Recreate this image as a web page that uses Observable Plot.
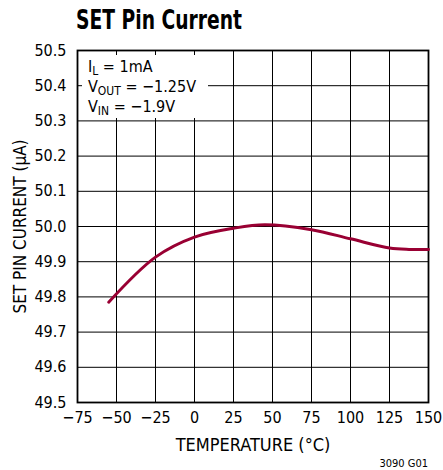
<!DOCTYPE html>
<html><head><meta charset="utf-8">
<script src="https://cdn.jsdelivr.net/npm/d3@7"></script>
<script src="https://cdn.jsdelivr.net/npm/@observablehq/plot@0.6"></script>
<style>
body{margin:0;background:#fff;}
#wrap{position:relative;width:443px;height:470px;overflow:hidden;font-family:"Liberation Sans Narrow","DejaVu Sans Condensed",sans-serif;}
#title{position:absolute;left:76px;top:5px;font-size:26px;font-weight:bold;transform:scaleX(0.8);transform-origin:left top;white-space:nowrap;}
#chart{position:absolute;left:0;top:40px;}
#note{position:absolute;left:82px;top:55px;width:126px;height:63px;background:#fff;font-size:16px;line-height:20px;padding-left:6px;box-sizing:border-box;padding-top:2px;}
#note sub{font-size:12px;vertical-align:-3px;line-height:0;}
#cap{position:absolute;right:15px;top:457px;font-size:11px;}
</style></head>
<body>
<div id="wrap">
<div id="title">SET Pin Current</div>
<div id="chart"></div>
<div id="note">I<sub>L</sub> = 1mA<br>V<sub>OUT</sub> = −1.25V<br>V<sub>IN</sub> = −1.9V</div>
<div id="cap">3090 G01</div>
</div>
<script>
const temperature = [-55, -25, 0, 25, 45, 75, 100, 125, 137.5, 150];
const setCurrent = [49.785, 49.913, 49.970, 49.995, 50.005, 49.991, 49.965, 49.939, 49.935, 49.935];
const xTicks = [-75, -50, -25, 0, 25, 50, 75, 100, 125, 150];
const yTicks = [49.5, 49.6, 49.7, 49.8, 49.9, 50.0, 50.1, 50.2, 50.3, 50.4, 50.5];

const data = temperature.map((t, i) => ({t, v: setCurrent[i]}));

const chart = Plot.plot({
  width: 443,
  height: 430,
  marginLeft: 77,
  marginRight: 15,
  marginTop: 10,
  marginBottom: 68,
  style: {fontSize: "16px", fontFamily: '"Liberation Sans Narrow","DejaVu Sans Condensed",sans-serif', color: "#000", background: "#fff"},
  x: {domain: [-75, 150]},
  y: {domain: [49.5, 50.5]},
  marks: [
    Plot.gridX(xTicks, {stroke: "#000", strokeOpacity: 1, strokeWidth: 1}),
    Plot.gridY(yTicks, {stroke: "#000", strokeOpacity: 1, strokeWidth: 1}),
    Plot.frame({stroke: "#000", strokeWidth: 1.8}),
    Plot.axisX(xTicks, {tickSize: 0, tickPadding: 9, label: null, fontSize: 16}),
    Plot.axisX({tickSize: 0, ticks: [], label: "TEMPERATURE (°C)", labelAnchor: "center", labelArrow: "none", labelOffset: 48, fontSize: 18}),
    Plot.axisY(yTicks, {tickSize: 0, tickPadding: 11, tickFormat: d3.format(".1f"), label: null, fontSize: 16}),
    Plot.axisY({tickSize: 0, ticks: [], label: "SET PIN CURRENT (μA)", labelAnchor: "center", labelArrow: "none", labelOffset: 64, fontSize: 17}),
    Plot.line(data, {x: "t", y: "v", stroke: "#990033", strokeWidth: 3, curve: "catmull-rom"})
  ]
});
document.getElementById("chart").appendChild(chart);
</script>
</body></html>
